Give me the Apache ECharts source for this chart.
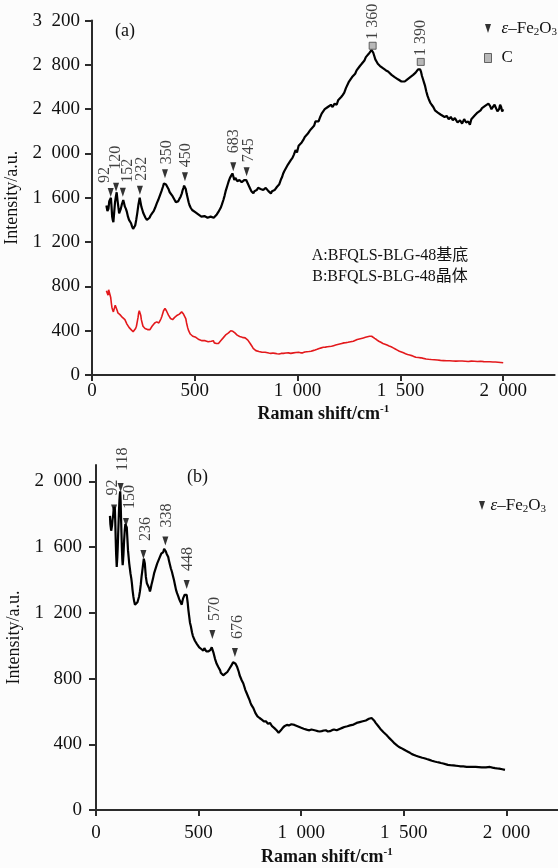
<!DOCTYPE html>
<html><head><meta charset="utf-8">
<script src="https://cdn.jsdelivr.net/npm/echarts@6/dist/echarts.min.js"></script>
<style>html,body{margin:0;padding:0;background:#fcfcfc}#c{width:558px;height:868px}</style>
</head><body><div id="c"></div><script>
// ---------- data ----------
// (a) black: substrate spectrum [Raman shift, intensity]
const substrateA = [[70,1530],[75,1480],[80,1500],[84,1570],[88,1560],[92,1600],[95,1520],[98,1430],[101,1400],[104,1380],[108,1470],[112,1560],[116,1610],[120,1650],[124,1580],[128,1520],[132,1460],[136,1470],[140,1500],[145,1540],[149,1560],[152,1580],[156,1550],[160,1520],[165,1500],[170,1470],[175,1430],[180,1400],[185,1390],[190,1370],[195,1340],[200,1320],[205,1330],[210,1350],[215,1400],[220,1460],[226,1540],[232,1600],[236,1560],[240,1520],[245,1490],[250,1460],[255,1440],[260,1420],[267,1400],[274,1390],[280,1420],[285,1440],[292,1460],[300,1480],[307,1510],[315,1550],[322,1580],[330,1620],[338,1660],[345,1700],[350,1730],[355,1740],[360,1720],[365,1710],[372,1680],[378,1650],[384,1640],[390,1620],[396,1600],[402,1580],[408,1560],[415,1550],[420,1570],[425,1590],[431,1610],[437,1640],[441,1670],[445,1690],[448,1710],[452,1710],[456,1680],[460,1640],[465,1600],[470,1560],[475,1530],[480,1510],[487,1490],[495,1480],[502,1470],[510,1460],[517,1450],[525,1440],[532,1430],[540,1420],[547,1435],[555,1430],[562,1420],[570,1410],[577,1430],[585,1440],[592,1420],[600,1430],[607,1450],[614,1470],[620,1480],[626,1510],[632,1540],[639,1580],[645,1620],[650,1660],[655,1690],[660,1720],[665,1750],[671,1780],[677,1800],[683,1820],[688,1790],[692,1760],[697,1780],[702,1770],[707,1750],[712,1740],[717,1760],[722,1750],[728,1740],[735,1730],[740,1760],[745,1770],[750,1760],[755,1750],[760,1720],[765,1700],[770,1680],[775,1660],[780,1650],[785,1640],[790,1660],[795,1650],[801,1670],[808,1690],[814,1700],[820,1680],[826,1690],[833,1670],[839,1660],[845,1690],[851,1680],[858,1660],[864,1650],[870,1640],[876,1660],[882,1650],[888,1670],[895,1680],[900,1700],[905,1710],[910,1720],[914,1740],[920,1770],[925,1790],[930,1820],[935,1840],[941,1860],[947,1880],[953,1900],[960,1910],[967,1940],[975,1960],[982,1990],[990,2030],[997,2010],[1005,2070],[1012,2060],[1020,2100],[1027,2120],[1035,2150],[1042,2140],[1050,2180],[1057,2200],[1065,2220],[1072,2210],[1080,2250],[1087,2290],[1095,2300],[1102,2290],[1110,2330],[1117,2360],[1125,2360],[1132,2400],[1140,2390],[1147,2420],[1155,2410],[1162,2440],[1170,2420],[1180,2450],[1190,2440],[1197,2480],[1205,2470],[1212,2510],[1220,2530],[1227,2550],[1235,2590],[1242,2600],[1250,2650],[1257,2640],[1265,2690],[1272,2700],[1280,2720],[1287,2750],[1295,2760],[1303,2790],[1312,2810],[1318,2800],[1325,2840],[1332,2870],[1340,2880],[1346,2900],[1352,2910],[1360,2935],[1364,2920],[1368,2910],[1373,2880],[1378,2850],[1384,2830],[1390,2810],[1395,2800],[1401,2790],[1408,2780],[1415,2770],[1422,2760],[1430,2750],[1440,2740],[1449,2730],[1457,2710],[1465,2700],[1472,2690],[1480,2680],[1488,2670],[1497,2660],[1505,2650],[1514,2640],[1521,2650],[1528,2660],[1534,2670],[1540,2680],[1548,2690],[1555,2700],[1562,2710],[1568,2720],[1574,2730],[1580,2740],[1586,2760],[1591,2770],[1596,2760],[1600,2740],[1605,2700],[1610,2670],[1615,2640],[1620,2610],[1626,2560],[1632,2520],[1638,2490],[1645,2460],[1652,2440],[1660,2420],[1668,2390],[1675,2400],[1682,2370],[1690,2380],[1697,2350],[1705,2360],[1715,2330],[1725,2340],[1735,2310],[1745,2330],[1755,2300],[1765,2320],[1778,2280],[1790,2300],[1800,2270],[1810,2310],[1820,2280],[1830,2290],[1838,2260],[1845,2310],[1852,2300],[1860,2340],[1868,2330],[1875,2370],[1882,2360],[1890,2390],[1897,2410],[1905,2400],[1912,2430],[1920,2420],[1928,2450],[1936,2430],[1943,2400],[1950,2420],[1958,2440],[1965,2410],[1972,2380],[1980,2400],[1985,2440],[1990,2420],[1995,2380],[2000,2400]];
// (a) red: crystal spectrum
const crystalA = [[70,760],[74,740],[78,720],[81,770],[84,780],[88,760],[91,700],[94,650],[97,610],[100,590],[104,570],[107,590],[110,600],[113,630],[116,640],[120,620],[123,580],[126,560],[129,555],[132,550],[136,545],[140,540],[144,530],[148,520],[152,530],[156,510],[160,500],[165,480],[170,460],[175,445],[180,430],[185,420],[190,410],[195,400],[200,390],[204,395],[208,400],[212,420],[216,440],[220,480],[224,520],[227,560],[230,580],[234,570],[237,540],[240,500],[244,470],[248,440],[253,430],[258,420],[264,415],[270,410],[276,405],[282,410],[287,425],[292,440],[298,455],[305,470],[310,475],[315,480],[320,475],[325,470],[331,490],[336,510],[340,530],[344,555],[348,580],[352,595],[355,600],[358,590],[362,580],[367,560],[372,540],[377,525],[382,510],[387,500],[392,500],[397,510],[402,520],[408,530],[415,540],[420,545],[425,550],[430,555],[436,570],[440,560],[445,550],[449,545],[452,540],[456,510],[460,470],[465,430],[470,400],[474,385],[478,370],[484,360],[490,350],[497,345],[505,340],[512,330],[520,320],[527,315],[535,310],[542,315],[550,310],[557,305],[565,300],[572,305],[580,305],[585,300],[590,310],[595,290],[600,280],[605,285],[610,275],[615,285],[620,300],[626,310],[632,320],[638,335],[645,350],[652,365],[658,375],[664,380],[670,390],[675,400],[680,400],[685,395],[690,390],[695,380],[700,370],[706,360],[712,350],[718,348],[725,345],[731,340],[738,340],[745,335],[752,330],[758,315],[765,300],[771,280],[778,260],[784,240],[790,230],[797,220],[805,215],[812,212],[820,210],[827,205],[835,210],[842,205],[850,200],[860,198],[870,195],[880,198],[890,195],[900,192],[910,190],[920,195],[931,195],[943,198],[955,200],[967,195],[980,200],[992,203],[1005,205],[1015,200],[1025,200],[1035,208],[1044,210],[1055,212],[1065,215],[1075,220],[1085,225],[1095,232],[1105,240],[1115,245],[1125,250],[1135,252],[1145,255],[1155,258],[1165,260],[1175,265],[1185,270],[1195,275],[1205,280],[1215,285],[1225,290],[1235,292],[1245,295],[1258,300],[1271,305],[1280,312],[1290,320],[1300,325],[1310,330],[1320,335],[1330,340],[1340,345],[1350,350],[1355,352],[1360,350],[1367,340],[1375,330],[1385,318],[1395,305],[1405,295],[1415,285],[1425,278],[1435,270],[1445,262],[1455,255],[1465,245],[1475,235],[1485,225],[1495,215],[1505,208],[1515,200],[1525,192],[1535,185],[1545,180],[1555,175],[1565,168],[1575,160],[1587,158],[1600,155],[1612,150],[1625,145],[1637,142],[1650,140],[1665,138],[1680,135],[1695,132],[1710,130],[1725,128],[1740,128],[1755,126],[1770,125],[1785,127],[1800,126],[1815,124],[1830,122],[1845,125],[1860,124],[1875,122],[1890,124],[1905,121],[1920,120],[1935,119],[1950,118],[1962,117],[1975,115],[1988,113],[2000,110]];
const peakShiftA = [91,117,150,233,355,452,687,752];
const peakValA = [1647,1696,1651,1669,1818,1791,1881,1836];
const peakLabelA = ['92','120','152','232','350','450','683','745'];
const carbonShift = [1365,1599];
const carbonVal = [2973,2827];
const carbonLabel = ['1 360','1 390'];

// (b) spectrum
const spectrumB = [[68,1790],[70,1740],[72,1720],[74,1700],[76,1690],[78,1730],[80,1760],[82,1780],[84,1800],[86,1830],[88,1840],[90,1845],[92,1830],[94,1750],[96,1650],[98,1560],[101,1480],[104,1540],[106,1600],[108,1680],[110,1750],[112,1820],[114,1880],[116,1920],[118,1940],[120,1880],[122,1780],[124,1690],[126,1600],[128,1530],[130,1490],[132,1520],[134,1560],[137,1640],[140,1700],[143,1740],[145,1750],[148,1740],[150,1720],[153,1650],[156,1580],[159,1540],[162,1500],[165,1470],[168,1440],[172,1410],[175,1380],[178,1340],[182,1300],[186,1270],[190,1250],[194,1245],[198,1260],[202,1265],[206,1270],[210,1300],[214,1330],[218,1370],[222,1420],[225,1450],[228,1480],[231,1510],[233,1530],[236,1520],[238,1500],[241,1450],[243,1420],[246,1395],[248,1380],[252,1375],[255,1370],[259,1350],[263,1330],[267,1350],[270,1370],[274,1390],[278,1410],[283,1440],[288,1460],[293,1480],[298,1500],[303,1510],[308,1530],[313,1545],[318,1560],[323,1565],[328,1570],[332,1590],[336,1590],[340,1575],[344,1560],[348,1550],[352,1540],[356,1515],[361,1490],[365,1470],[370,1450],[375,1425],[380,1400],[385,1370],[390,1340],[395,1320],[401,1300],[405,1285],[410,1270],[414,1260],[418,1250],[421,1270],[425,1290],[428,1300],[432,1310],[436,1300],[439,1320],[442,1310],[444,1300],[447,1260],[450,1220],[454,1180],[458,1140],[462,1120],[465,1100],[468,1080],[472,1060],[477,1045],[482,1030],[487,1020],[492,1010],[497,1000],[503,990],[508,985],[513,980],[518,975],[523,970],[528,985],[533,980],[538,965],[543,970],[548,965],[553,960],[558,975],[564,990],[568,980],[572,960],[576,940],[580,920],[584,905],[588,890],[592,880],[596,870],[600,860],[605,850],[608,835],[612,830],[616,825],[620,820],[625,825],[630,830],[635,835],[640,840],[645,850],[650,860],[655,870],[660,880],[664,890],[668,900],[672,910],[676,905],[680,890],[684,880],[688,870],[692,860],[696,840],[700,820],[705,805],[710,790],[714,780],[718,770],[723,750],[728,730],[733,715],[738,700],[743,685],[748,670],[752,655],[757,640],[762,630],[767,620],[772,605],[777,590],[782,580],[787,570],[792,565],[797,560],[802,555],[808,550],[813,545],[818,540],[823,548],[828,540],[833,530],[838,525],[843,535],[848,530],[853,520],[858,510],[863,505],[868,500],[874,495],[880,485],[885,478],[890,470],[894,468],[897,475],[901,485],[905,490],[910,500],[915,505],[920,512],[925,515],[930,518],[935,510],[940,515],[945,520],[952,522],[960,525],[967,518],[975,515],[982,510],[990,505],[997,502],[1005,500],[1012,495],[1020,490],[1030,488],[1040,485],[1050,490],[1059,490],[1070,484],[1080,480],[1090,478],[1100,480],[1110,484],[1120,485],[1130,478],[1140,480],[1150,486],[1160,490],[1167,482],[1173,485],[1182,492],[1190,495],[1200,500],[1210,505],[1218,508],[1225,510],[1232,512],[1238,515],[1246,518],[1255,520],[1262,526],[1270,530],[1278,532],[1285,535],[1292,538],[1300,540],[1308,542],[1315,545],[1322,550],[1330,555],[1337,558],[1343,560],[1349,552],[1355,545],[1362,532],[1370,520],[1377,508],[1385,495],[1392,485],[1400,475],[1408,465],[1417,455],[1426,442],[1435,430],[1445,418],[1455,405],[1465,395],[1475,385],[1486,378],[1498,370],[1509,362],[1520,355],[1530,348],[1540,340],[1550,335],[1560,330],[1570,326],[1579,322],[1590,318],[1600,315],[1612,310],[1625,305],[1637,300],[1650,295],[1660,292],[1670,290],[1681,286],[1692,283],[1703,279],[1715,275],[1727,273],[1740,272],[1752,270],[1765,268],[1777,266],[1790,265],[1806,263],[1823,262],[1836,262],[1850,262],[1865,261],[1880,260],[1890,260],[1900,260],[1910,261],[1920,262],[1932,258],[1945,255],[1955,253],[1965,252],[1972,250],[1980,248],[1987,246],[1993,244]];
const peakShiftB = [88,120,146,231,338,442,567,677];
const peakValB = [1832,1963,1750,1555,1638,1373,1068,959];
const peakLabelB = ['92','118','150','236','338','448','570','676'];

const xTicks = [0,500,1000,1500,2000];
const yTicksA = [0,400,800,1200,1600,2000,2400,2800,3200];
const yTicksB = [0,400,800,1200,1600,2000];
const sampleText = ['A:BFQLS-BLG-48基底','B:BFQLS-BLG-48晶体'];

// ---------- styles ----------
const FONT = '"Liberation Serif", "Times New Roman", serif';
const AXC = '#2b2b2b';
// label offsets are in the rotated label frame: [up, right]
const labelOffA = [[0,-6],[8,0],[0,5],[0,2],[0,2],[0,1],[4,1],[0,2]];
const labelOffB = [[0,-1],[3,2],[0,4],[0,2],[0,1],[0,1],[0,2],[0,3]];
const TRI = 'path://M0,0L10,0L5,15Z';

const fmt = v => v >= 1000 ? Math.floor(v/1000) + '  ' + String(v % 1000).padStart(3,'0') : String(v);
const zip = (a,b) => a.map((x,i)=>[x,b[i]]);

function xAxis(gi, margin, gap){
  return {type:'value', gridIndex:gi, min:0, max:2250, interval:500,
    name:'Raman shift/cm{sup|-1}', nameLocation:'middle', nameGap:gap,
    nameTextStyle:{fontFamily:FONT, fontSize:18, fontWeight:'bold', color:'#111',
      rich:{sup:{fontFamily:FONT, fontSize:11, fontWeight:'bold', color:'#111', padding:[0,0,10,0]}}},
    axisLine:{onZero:false, lineStyle:{color:AXC, width:2}},
    axisTick:{show:true, length:6, inside:false, customValues:xTicks, lineStyle:{color:AXC, width:2}},
    axisLabel:{customValues:xTicks, formatter:fmt, margin:margin, fontFamily:FONT, fontSize:19, color:'#111'},
    splitLine:{show:false}};
}
function yAxis(gi, max, ticks, margin, gap){
  return {type:'value', gridIndex:gi, min:0, max:max, interval:400,
    name:'Intensity/a.u.', nameLocation:'middle', nameGap:gap,
    nameTextStyle:{fontFamily:FONT, fontSize:18, color:'#111'},
    axisLine:{show:true, lineStyle:{color:AXC, width:2}},
    axisTick:{show:true, length:7, customValues:ticks, lineStyle:{color:AXC, width:2}},
    axisLabel:{customValues:ticks, formatter:fmt, margin:margin, fontFamily:FONT, fontSize:19, color:'#111'},
    splitLine:{show:false}};
}
function peakSeries(name, xi, sh, vals, labels, offs, dist){
  return {name:name, type:'scatter', xAxisIndex:xi, yAxisIndex:xi, symbol:TRI, symbolSize:[6,9],
    itemStyle:{color:'#000'}, z:5,
    data: sh.map((s,i)=>({value:[s, vals[i]], label:{offset:offs[i]}})),
    label:{show:true, position:'top', distance:dist, rotate:90, align:'left', verticalAlign:'middle',
      fontFamily:FONT, fontSize:16, color:'#111', formatter:p=>labels[p.dataIndex]}};
}
const richFe = {
  g:{fontFamily:FONT, fontSize:16, width:5, color:'#111'},
  e:{fontFamily:FONT, fontSize:17, fontStyle:'italic', color:'#111'},
  n:{fontFamily:FONT, fontSize:17, color:'#111'},
  s:{fontFamily:FONT, fontSize:11, color:'#111', padding:[7,0,0,0]}
};
const feText = () => '{e|ε}{n|–Fe}{s|2}{n|O}{s|3}';

const chart = echarts.init(document.getElementById('c'), null, {renderer:'canvas'});
chart.setOption({
  backgroundColor:'#fcfcfc',
  animation:false,
  grid:[
    {left:92, right:3.4, top:20.6, height:354.4, outerBoundsMode:'none', containLabel:false},
    {left:96, right:0.3, top:465, height:345, outerBoundsMode:'none', containLabel:false}
  ],
  xAxis:[xAxis(0,7,29), xAxis(1,14,37)],
  yAxis:[yAxis(0,3200,yTicksA,12,63), yAxis(1,2100,yTicksB,14,65)],
  title:[
    {text:'(a)', left:115, top:22, padding:0, textStyle:{fontFamily:FONT, fontSize:18, fontWeight:'normal', color:'#111'}},
    {text:'(b)', left:187, top:468, padding:0, textStyle:{fontFamily:FONT, fontSize:18, fontWeight:'normal', color:'#111'}},
    {text:sampleText.join('\n'), left:390, top:245, padding:0, textAlign:'center',
      textStyle:{fontFamily:'"Liberation Serif", "Noto Sans CJK SC", serif', fontSize:16, fontWeight:'normal', color:'#111', lineHeight:21}}
  ],
  legend:[
    {orient:'vertical', left:484, top:20, itemGap:12, itemWidth:7, itemHeight:9, padding:0,
      data:[{name:'Fe_a', icon:TRI},{name:'C_a', icon:'rect', itemStyle:{color:'#a6a6a6', borderColor:'#444', borderWidth:1}}],
      formatter:n=> n==='C_a' ? '{g| }{n|C}' : '{g| }' + feText(),
      textStyle:{fontFamily:FONT, fontSize:16, color:'#111', rich:richFe}},
    {orient:'vertical', left:479, top:497, itemGap:9, itemWidth:7, itemHeight:9, padding:0,
      data:[{name:'Fe_b', icon:TRI}],
      formatter:()=>feText(),
      textStyle:{fontFamily:FONT, fontSize:16, color:'#111', rich:richFe}}
  ],
  series:[
    {type:'line', xAxisIndex:0, yAxisIndex:0, data:substrateA, showSymbol:false,
      lineStyle:{color:'#000', width:2.2}, silent:true},
    {type:'line', xAxisIndex:0, yAxisIndex:0, data:crystalA, showSymbol:false,
      lineStyle:{color:'#e3191c', width:1.6}, silent:true},
    peakSeries('Fe_a', 0, peakShiftA, peakValA, peakLabelA, labelOffA, 5),
    {name:'C_a', type:'scatter', xAxisIndex:0, yAxisIndex:0, symbol:'rect', symbolSize:7,
      itemStyle:{color:'#a6a6a6', borderColor:'#444', borderWidth:1}, z:5,
      data:zip(carbonShift, carbonVal),
      label:{show:true, position:'top', distance:2, rotate:90, align:'left', verticalAlign:'middle',
        fontFamily:FONT, fontSize:16, color:'#111', formatter:p=>carbonLabel[p.dataIndex]}},
    {type:'line', xAxisIndex:1, yAxisIndex:1, data:spectrumB, showSymbol:false,
      lineStyle:{color:'#000', width:2.2}, silent:true},
    peakSeries('Fe_b', 1, peakShiftB, peakValB, peakLabelB, labelOffB, 9)
  ]
});
</script></body></html>
